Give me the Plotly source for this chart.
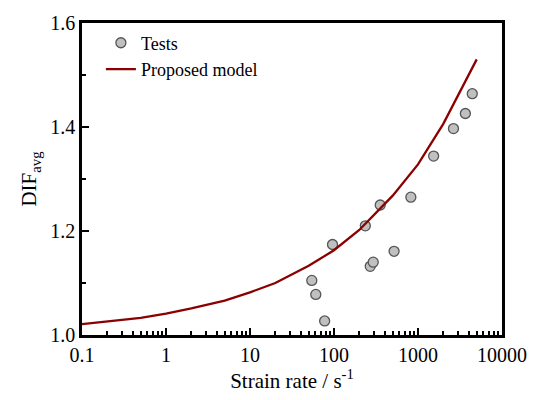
import plotly.graph_objects as go

# Test data
test_rate = [54.4, 60.7, 77.4, 96, 236, 270, 293, 355, 519, 822, 1535, 2643, 3664, 4426]
test_dif = [1.105, 1.078, 1.027, 1.174, 1.210, 1.132, 1.140, 1.250, 1.161, 1.265, 1.344, 1.397, 1.426, 1.464]

# Proposed model
model_rate = [0.1, 0.2, 0.5, 1, 2, 5, 10, 20, 50, 100, 200, 500, 1000, 2000, 5000]
model_dif = [1.021, 1.026, 1.033, 1.041, 1.051, 1.066, 1.082, 1.100, 1.133, 1.163, 1.202, 1.268, 1.328, 1.406, 1.530]

x_tickvals = [0.1, 1, 10, 100, 1000, 10000]
x_ticktext = ["0.1", "1", "10", "100", "1000", "10000"]

FONT = "Liberation Serif"

fig = go.Figure()
fig.add_trace(go.Scatter(
    x=test_rate, y=test_dif, mode="markers", name="Tests",
    marker=dict(size=10, color="#c0c0c0", line=dict(color="#555555", width=1.3)),
))
fig.add_trace(go.Scatter(
    x=model_rate, y=model_dif, mode="lines", name="Proposed model",
    line=dict(color="#8b0000", width=2.3),
))

fig.update_layout(
    width=539, height=400,
    margin=dict(l=82, r=33, t=16, b=65),
    paper_bgcolor="white", plot_bgcolor="white",
    font=dict(family=FONT, size=20, color="black"),
    showlegend=True,
    legend=dict(x=0.045, y=0.995, xanchor="left", yanchor="top",
                bgcolor="rgba(0,0,0,0)", font=dict(size=18, family=FONT, color="black"),
                tracegroupgap=0, itemsizing="trace"),
    xaxis=dict(
        type="log", range=[-1, 4],
        tickvals=x_tickvals, ticktext=x_ticktext,
        ticks="inside", ticklen=7, tickwidth=2, tickcolor="black",
        showline=True, linecolor="black", linewidth=2.5, mirror=True,
        showgrid=False, zeroline=False,
        minor=dict(ticks="inside", ticklen=4, tickwidth=1.5, tickcolor="black", dtick="D1", showgrid=False),
        title=dict(text="Strain rate / s<sup>-1</sup>", font=dict(size=21, family=FONT, color="black"), standoff=4),
        tickfont=dict(size=20, family=FONT, color="black"),
    ),
    yaxis=dict(
        range=[1.0, 1.6], tickvals=[1.0, 1.2, 1.4, 1.6], ticktext=["1.0", "1.2", "1.4", "1.6"],
        ticks="inside", ticklen=7, tickwidth=2, tickcolor="black",
        showline=True, linecolor="black", linewidth=2.5, mirror=True,
        showgrid=False, zeroline=False,
        minor=dict(ticks="inside", ticklen=4, tickwidth=1.5, tickcolor="black", dtick=0.1, showgrid=False),
        title=dict(text="DIF<sub>avg</sub>", font=dict(size=21, family=FONT, color="black"), standoff=8),
        tickfont=dict(size=20, family=FONT, color="black"),
    ),
)

fig.write_html("out.html")
